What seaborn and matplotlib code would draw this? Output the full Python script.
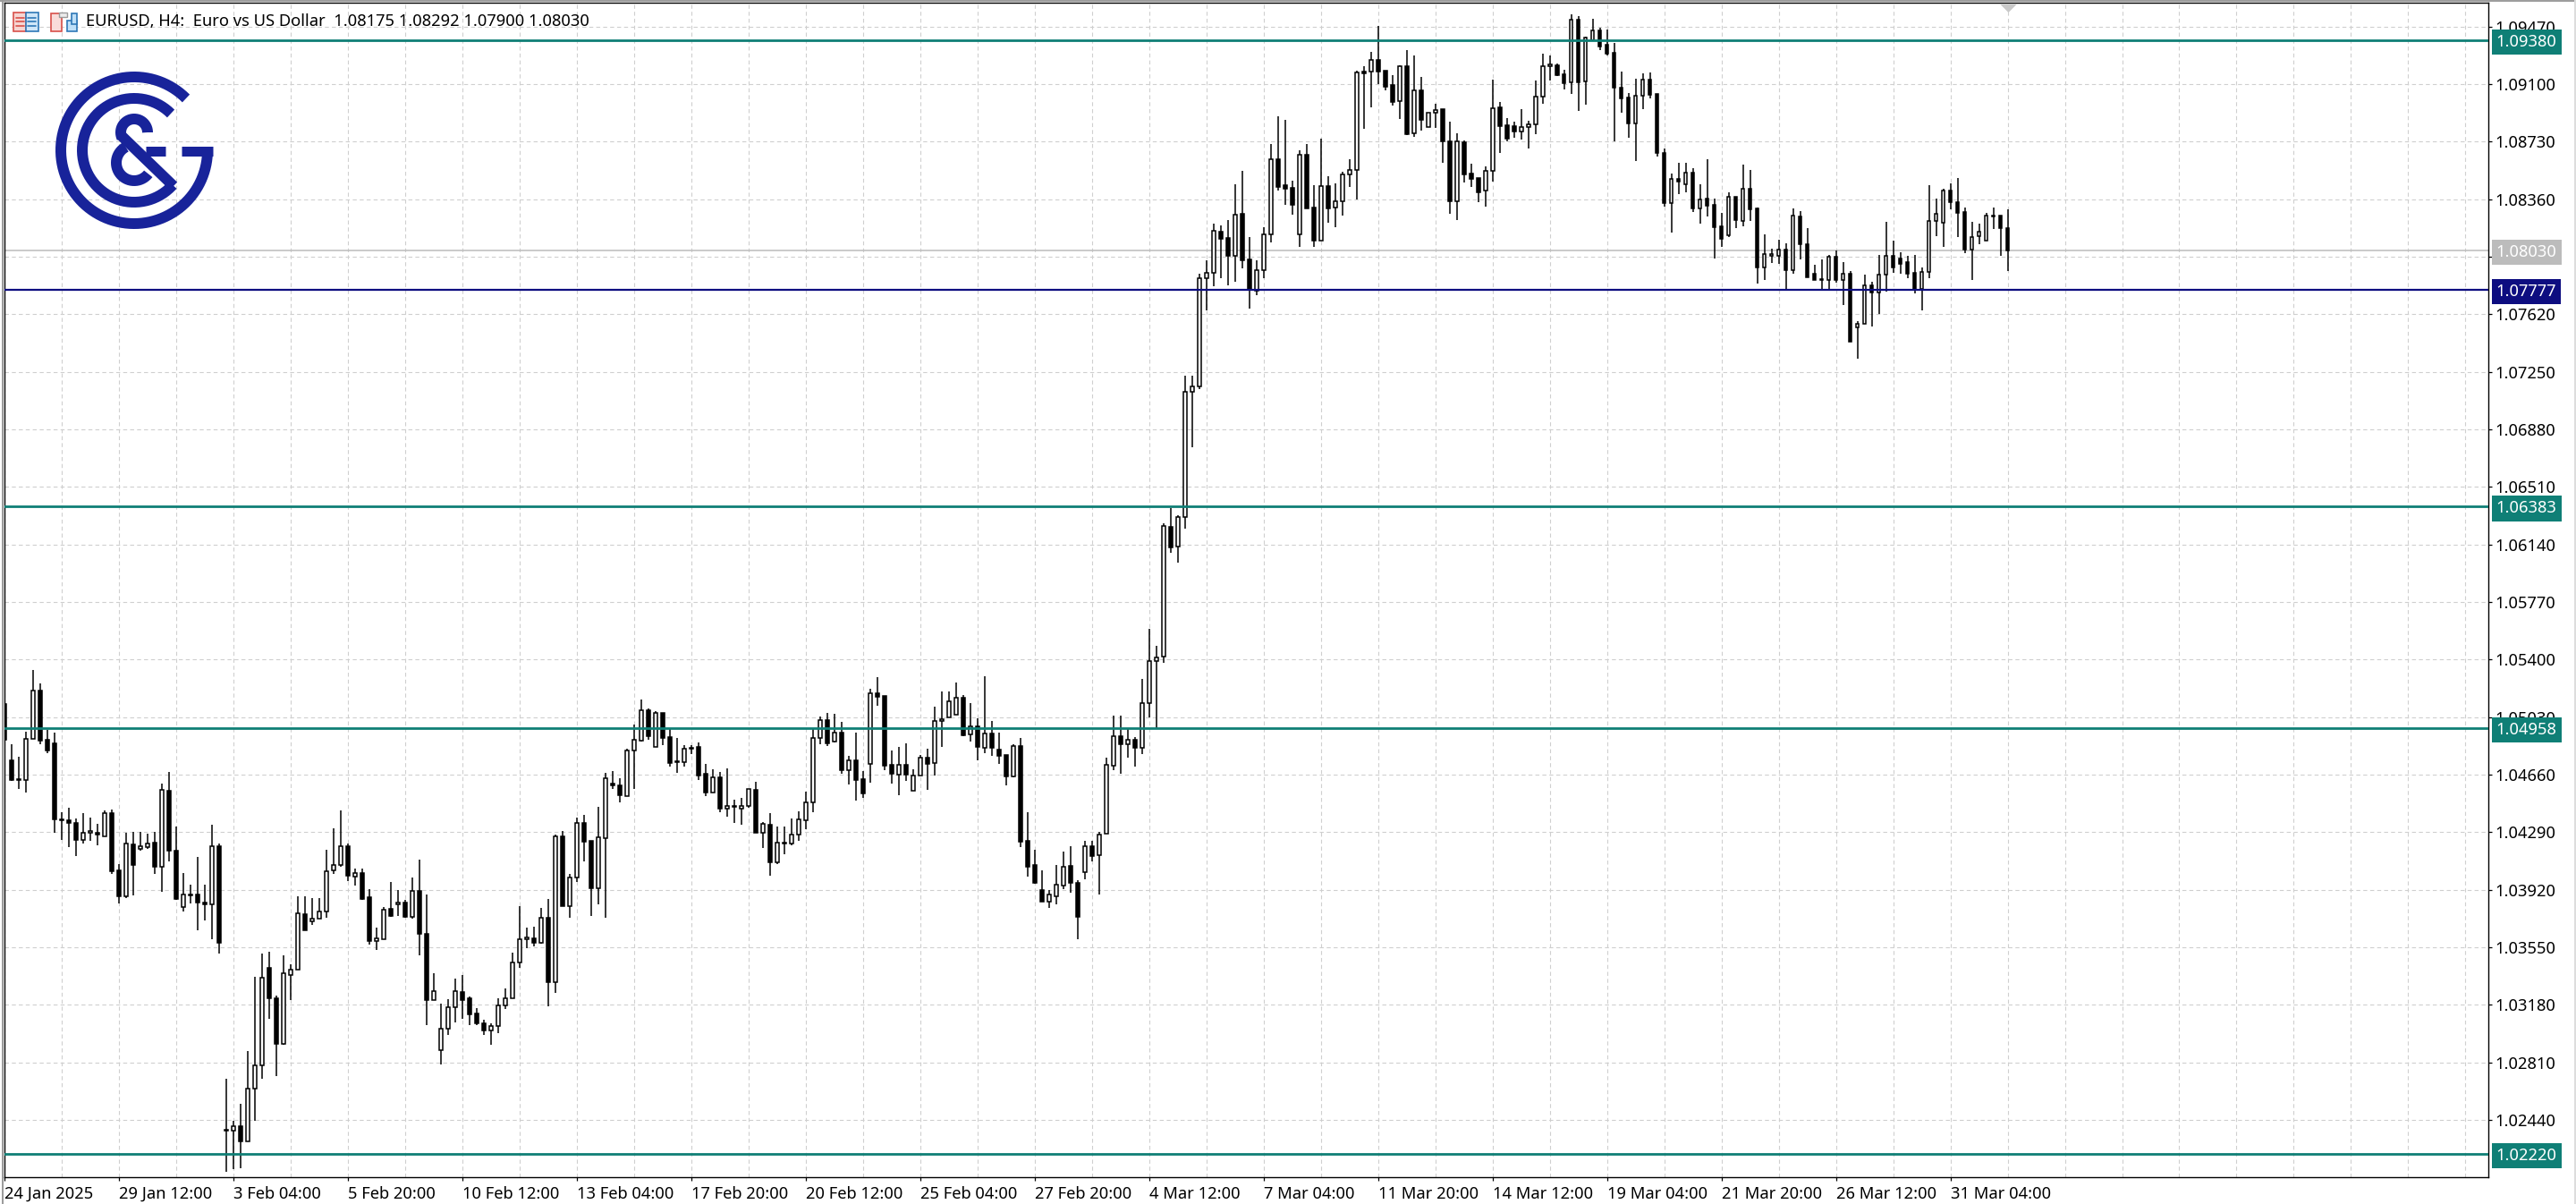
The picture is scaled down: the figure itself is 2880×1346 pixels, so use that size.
import numpy as np
import pandas as pd
import seaborn as sns
import matplotlib.pyplot as plt
from matplotlib.patches import Rectangle

# EURUSD H4 candles, prices in points (price * 100000)
opens = [
    105115,104752,104633,104628,104888,105200,104885,104862,104373,104369,
    104348,104242,104284,104284,104265,104412,104045,103875,104212,104183,
    104196,104222,104070,104557,104171,103808,103891,103891,103836,103824,
    104201,102379,102373,102402,102304,102639,102788,103415,103220,102931,
    103374,103404,103762,103714,103732,103778,104042,104077,104199,104003,
    104026,103870,103592,103599,103797,103824,103836,103748,103911,103634,
    103213,102887,103029,103163,103261,103220,103124,103059,103018,103046,
    103179,103220,103450,103604,103606,103581,103739,103323,104261,103817,
    103996,104348,104233,103928,104249,104601,104589,104522,104814,104881,
    105074,104841,105057,104902,104747,104743,104825,104839,104664,104547,
    104641,104444,104453,104440,104461,104561,104288,104338,104099,104221,
    104216,104273,104369,104480,104894,105011,104871,104931,104691,104750,
    104630,104727,105182,105166,104722,104662,104722,104559,104653,104770,
    104733,105003,105027,105044,105153,104917,104969,104835,104925,104821,
    104785,104651,104842,104235,104078,103918,103846,103880,103949,104074,
    103964,104035,104200,104145,104279,104720,104906,104858,104883,104835,
    105119,105389,105417,106251,106128,106314,107120,107153,107849,107885,
    108150,108111,107998,108267,107971,107770,107902,108132,108615,108449,
    108431,108136,108644,108305,108096,108443,108305,108345,108518,108546,
    109181,109179,109254,109187,109093,108989,109214,108782,109058,108822,
    108913,108937,108730,108349,108727,108523,108495,108414,108541,108949,
    108834,108828,108794,108822,108840,109018,109214,109219,109162,109110,
    109516,109116,109382,109444,109352,109300,109075,109012,108849,109024,
    109127,109035,108656,108337,108489,108454,108529,108299,108362,108324,
    108184,108128,108376,108222,108426,108301,107918,107998,107998,108035,
    107906,108247,108069,107879,107843,107839,107990,107843,107879,107534,
    107557,107805,107757,107874,107994,107977,107954,107885,107785,107891,
    108219,108207,108414,108341,108276,108035,108121,108092,108251,108253,
    108175,
]
highs = [
    105115,104853,104775,104938,105333,105248,104950,104931,104417,104449,
    104380,104412,104385,104346,104431,104435,104086,104284,104293,104293,
    104279,104293,104603,104679,104327,104029,103953,104132,103955,104339,
    104215,102706,102435,102545,102882,103360,103507,103521,103238,103498,
    103441,103879,103879,103868,103868,104178,104313,104431,104215,104056,
    104054,103923,103675,103808,103971,103918,103856,103996,104114,103891,
    103383,103186,103218,103349,103369,103234,103158,103085,103064,103222,
    103284,103514,103817,103677,103682,103804,103861,104272,104295,104019,
    104382,104403,104233,104454,104669,104683,104637,104829,104982,105143,
    105086,105067,105057,104957,104896,104852,104848,104867,104729,104695,
    104676,104701,104497,104511,104566,104614,104356,104413,104327,104327,
    104379,104426,104551,104954,105034,105055,105051,105000,104779,104931,
    104685,105212,105285,105166,104816,104839,104862,104695,104787,104829,
    105097,105197,105197,105253,105172,105120,105025,105293,105005,104931,
    104785,104854,104896,104419,104177,104045,103918,104079,104166,104200,
    103982,104235,104235,104292,104772,105040,105040,104957,104902,105276,
    105595,105486,106274,106376,106328,107225,107225,107881,107967,108203,
    108190,108226,108458,108543,108115,107967,108178,108713,108893,108870,
    108481,108673,108713,108452,108750,108506,108462,108535,108617,109187,
    109215,109307,109474,109187,109156,109219,109319,109284,109146,108918,
    108972,108939,108859,108784,108740,108590,108495,108569,109131,108985,
    108882,108859,108939,108865,109123,109296,109284,109233,109192,109549,
    109536,109407,109520,109463,109453,109365,109181,109041,109133,109171,
    109175,109035,108686,108525,108594,108594,108558,108456,108617,108362,
    108274,108405,108376,108583,108548,108307,108134,108044,108098,108077,
    108299,108284,108174,107939,107973,108002,108031,107954,107897,107574,
    107875,107829,108002,108213,108092,108021,107996,108000,107920,108452,
    108364,108424,108462,108497,108305,108215,108203,108270,108305,108253,
    108292,
]
lows = [
    104885,104617,104566,104543,104888,104853,104796,104288,104242,104196,
    104139,104215,104233,104205,104261,104024,103829,103866,103884,104169,
    104180,104024,103909,104100,103852,103778,103829,103657,103723,103601,
    103507,102108,102124,102129,102304,102435,102706,103089,102722,102926,
    103209,103404,103661,103696,103732,103741,104019,104065,103973,103948,
    103856,103565,103530,103599,103744,103751,103741,103732,103496,103050,
    103213,102797,102986,103066,103089,103048,103052,102986,102924,102997,
    103153,103220,103418,103542,103553,103572,103172,103257,103813,103741,
    103967,104104,103753,103824,103737,104566,104479,104522,104570,104873,
    104887,104841,104848,104714,104672,104712,104791,104626,104522,104547,
    104419,104388,104350,104338,104446,104288,104189,104012,104087,104149,
    104206,104235,104308,104419,104856,104842,104867,104666,104597,104495,
    104511,104611,105101,104691,104603,104528,104620,104559,104653,104563,
    104655,104839,105027,105044,104910,104873,104752,104800,104781,104729,
    104591,104645,104195,104005,103961,103846,103803,103828,103924,103901,
    103602,103987,104101,103890,104279,104689,104666,104772,104712,104793,
    105030,104957,105381,106086,106023,106243,106765,107141,107642,107801,
    107849,107806,107829,107916,107657,107743,107849,108084,108418,108326,
    108261,108054,108303,108054,108092,108207,108180,108257,108439,108360,
    108813,108951,109098,109060,108962,108878,108769,108763,108803,108821,
    108817,108596,108268,108228,108466,108441,108343,108309,108475,108658,
    108734,108752,108744,108686,108775,108974,109120,109154,109066,109037,
    108930,108970,109382,109321,109286,108734,108916,108755,108606,108941,
    109008,108631,108314,108146,108395,108406,108278,108203,108251,107977,
    108054,108117,108176,108188,108222,107820,107843,107950,107944,107778,
    107883,107973,107860,107843,107785,107785,107824,107682,107446,107335,
    107557,107542,107619,107766,107887,107883,107849,107755,107647,107854,
    108123,108054,108295,108117,108015,107843,108069,108092,108169,107996,
    107900,
]
closes = [
    104885,104626,104628,104888,105200,104881,104816,104371,104364,104352,
    104242,104284,104297,104272,104412,104036,103875,104215,104077,104199,
    104219,104070,104562,104169,103859,103888,103886,103836,103824,104199,
    103581,102373,102402,102304,102639,102788,103353,103220,102931,103381,
    103404,103767,103661,103732,103778,104038,104077,104199,104008,104026,
    103861,103592,103606,103790,103753,103836,103746,103911,103634,103213,
    103266,103029,103163,103266,103213,103121,103064,103018,103046,103179,
    103220,103450,103604,103611,103581,103739,103328,104261,103817,103996,
    104348,104231,103928,104256,104635,104591,104525,104814,104883,105073,
    104910,105055,104898,104737,104743,104825,104835,104657,104547,104641,
    104444,104457,104457,104461,104566,104288,104342,104099,104221,104216,
    104273,104371,104480,104894,105009,104864,104929,104691,104750,104628,
    104541,105182,105163,104718,104668,104722,104662,104653,104768,104731,
    105003,105019,105130,105153,104915,104969,104841,104923,104835,104783,
    104651,104842,104231,104070,103964,103846,103888,103951,104068,103966,
    103748,104198,104139,104273,104722,104906,104858,104883,104835,105119,
    105389,105416,106257,106123,106314,107120,107154,107849,107885,108155,
    108102,107998,108259,107967,107776,107902,108132,108615,108439,108429,
    108326,108644,108303,108096,108443,108303,108345,108518,108546,109173,
    109171,109254,109183,109085,108987,109214,108778,109058,108872,108918,
    108932,108734,108349,108730,108521,108489,108406,108541,108947,108832,
    108746,108794,108821,108840,109018,109214,109225,109158,109108,109516,
    109114,109401,109444,109344,109298,109074,109010,108849,109024,109127,
    109033,108654,108337,108489,108470,108529,108303,108360,108320,108182,
    108102,108374,108226,108426,108297,107918,108006,108006,108035,107906,
    108253,108073,107860,107843,107847,107990,107843,107879,107446,107557,
    107803,107757,107874,107994,107923,107946,107883,107785,107891,108219,
    108265,108414,108343,108274,108036,108119,108150,108253,108255,108176,
    108030,
]

date_labels = ['24 Jan 2025', '29 Jan 12:00', '3 Feb 04:00', '5 Feb 20:00', '10 Feb 12:00',
               '13 Feb 04:00', '17 Feb 20:00', '20 Feb 12:00', '25 Feb 04:00', '27 Feb 20:00',
               '4 Mar 12:00', '7 Mar 04:00', '11 Mar 20:00', '14 Mar 12:00', '19 Mar 04:00',
               '21 Mar 20:00', '26 Mar 12:00', '31 Mar 04:00']
price_ticks = [1.0947, 1.0910, 1.0873, 1.0836, 1.0799, 1.0762, 1.0725, 1.0688, 1.0651, 1.0614,
               1.0577, 1.0540, 1.0503, 1.0466, 1.0429, 1.0392, 1.0355, 1.0318, 1.0281, 1.0244]
level_prices = [1.09380, 1.06383, 1.04958, 1.02220]
entry_price = 1.07777
last_price = 1.08030

TEAL = '#0f7f76'
NAVY = '#0d0d80'
GRAY = '#bcbcbc'
GRID = '#cfcfcf'
LOGO = '#18239a'
FONT = ['Noto Sans', 'DejaVu Sans']
FS = 13.2

sns.set_theme(style='white')
plt.rcParams['font.family'] = FONT

df = pd.DataFrame({'idx': np.arange(len(opens)), 'open': opens, 'high': highs,
                   'low': lows, 'close': closes})
df[['open', 'high', 'low', 'close']] = df[['open', 'high', 'low', 'close']] / 100000
df['body'] = (df['close'] - df['open']).abs()
df['base'] = df[['open', 'close']].min(axis=1)

fig = plt.figure(figsize=(28.8, 13.46), dpi=100, facecolor='white')
ax = fig.add_axes([4.5 / 2880, 1 - 1316 / 1346, 2777.5 / 2880, 1313 / 1346])

# wicks
wicks = df.melt(id_vars='idx', value_vars=['high', 'low'], value_name='price')
sns.lineplot(data=wicks, x='idx', y='price', units='idx', estimator=None, color='black',
             linewidth=1.1, solid_capstyle='butt', zorder=3, legend=False, ax=ax)

# bodies
for is_up, color in [(True, 'white'), (False, 'black')]:
    part = df[(df['close'] >= df['open']) == is_up]
    sns.barplot(data=part, x='idx', y='body', bottom=part['base'].values, native_scale=True,
                orient='x', width=0.46, color=color, saturation=1, errorbar=None,
                edgecolor='black', linewidth=1.1, zorder=4, ax=ax)

# horizontal levels
for price in level_prices:
    ax.axhline(price, color=TEAL, linewidth=2.0, zorder=5)
ax.axhline(entry_price, color=NAVY, linewidth=1.6, zorder=5)
ax.axhline(last_price, color=GRAY, linewidth=1.1, zorder=2)

ax.set_xlim(-0.075, 347.2)
ax.set_ylim(1.02072, 1.09623)
ax.set_xlabel('')
ax.set_ylabel('')

major_x = np.arange(len(date_labels)) * 16
ax.set_xticks(major_x)
ax.set_xticklabels(date_labels, ha='left', fontsize=FS, color='black')
ax.set_xticks([v for v in range(0, 348, 8) if v not in major_x], minor=True)
ax.yaxis.tick_right()
ax.set_yticks(price_ticks)
ax.set_yticklabels([f'{v:.5f}' for v in price_ticks], fontsize=FS, color='black')
ax.tick_params(axis='x', which='major', length=3, width=0.9, pad=4, color='black', bottom=True)
ax.tick_params(axis='x', which='minor', length=0)
ax.tick_params(axis='y', length=3, width=0.9, pad=2, color='black', right=True)
ax.grid(True, which='both', color=GRID, linewidth=0.8, linestyle=(0, (4, 3)))
ax.set_axisbelow(True)
for spine in ax.spines.values():
    spine.set_color('black')
    spine.set_linewidth(1.0)

# price tags on the right scale
tags = [(p, TEAL) for p in level_prices] + [(entry_price, NAVY), (last_price, GRAY)]
for price, color in tags:
    ax.text(1.00317, price, f'{price:.5f}', transform=ax.get_yaxis_transform(), ha='left',
            va='center_baseline', color='white', fontsize=FS, zorder=10,
            bbox=dict(boxstyle='square,pad=0.28', fc=color, ec='none'))

# last bar marker at top
ax.plot(df['idx'].iloc[-1], 0.9958, marker=[(-1, 0.5), (1, 0.5), (0, -0.5)], color='#c8c8c8',
        markersize=13, markeredgewidth=0, transform=ax.get_xaxis_transform(), clip_on=False,
        zorder=6)

# overlay in pixel coordinates for window decorations and logo
ov = fig.add_axes([0, 0, 1, 1])
ov.set_xlim(0, 2880)
ov.set_ylim(1346, 0)
ov.axis('off')


def stroke(xs, ys, width=12, color=LOGO):
    ov.plot(xs, ys, color=color, linewidth=width * 0.72, solid_capstyle='butt')


def arc(cx, cy, r, a0, a1, width=12):
    t = np.radians(np.linspace(a0, a1, 200))
    stroke(cx + r * np.cos(t), cy - r * np.sin(t), width)


# logo
arc(150, 168, 82, 45, 360)
stroke([203, 238], [168.5, 168.5], 11)
arc(150, 168, 58, 45, 318)
arc(150, 148, 15, 0, 205)
stroke([165, 165], [148, 147], 12)
stroke([136, 194], [152, 208])
arc(150, 182, 20, 118, 322)
stroke([163, 185], [168.5, 168.5], 11)

# window frame
ov.plot([0, 2880], [1, 1], color='#8a8a8a', linewidth=1.2)
ov.plot([2.5, 2.5], [0, 1346], color='#9a9a9a', linewidth=1.4)
ov.plot([2878.5, 2878.5], [0, 1346], color='#dddddd', linewidth=1.4)

# header icons
ov.add_patch(Rectangle((14.5, 13.5), 14, 21, fc='#f6d5d2', ec='#d8504a', lw=1.2))
ov.add_patch(Rectangle((28.5, 13.5), 14.5, 21, fc='#cfe6f8', ec='#2f78b7', lw=1.2))
for yy in (20, 24, 28.5):
    ov.plot([18, 27], [yy, yy], color='#d8504a', linewidth=1.2)
    ov.plot([31, 40], [yy, yy], color='#2f78b7', linewidth=1.2)
ov.add_patch(Rectangle((56.5, 14.5), 12.5, 20, fc='#f9dcd9', ec='#d8504a', lw=1.2))
ov.add_patch(Rectangle((66, 14), 9, 5, fc='#ececec', ec='#9a9a9a', lw=1.0))
ov.add_patch(Rectangle((74.5, 23), 11, 11.5, fc='#bfe0f8', ec='#2f78b7', lw=1.2))
ov.add_patch(Rectangle((80, 14.5), 5.5, 12, fc='#bfe0f8', ec='#2f78b7', lw=1.2))

ov.text(96, 24, 'EURUSD, H4:  Euro vs US Dollar  1.08175 1.08292 1.07900 1.08030',
        ha='left', va='center', fontsize=FS, color='black')

fig.savefig('out.png', dpi=100)
